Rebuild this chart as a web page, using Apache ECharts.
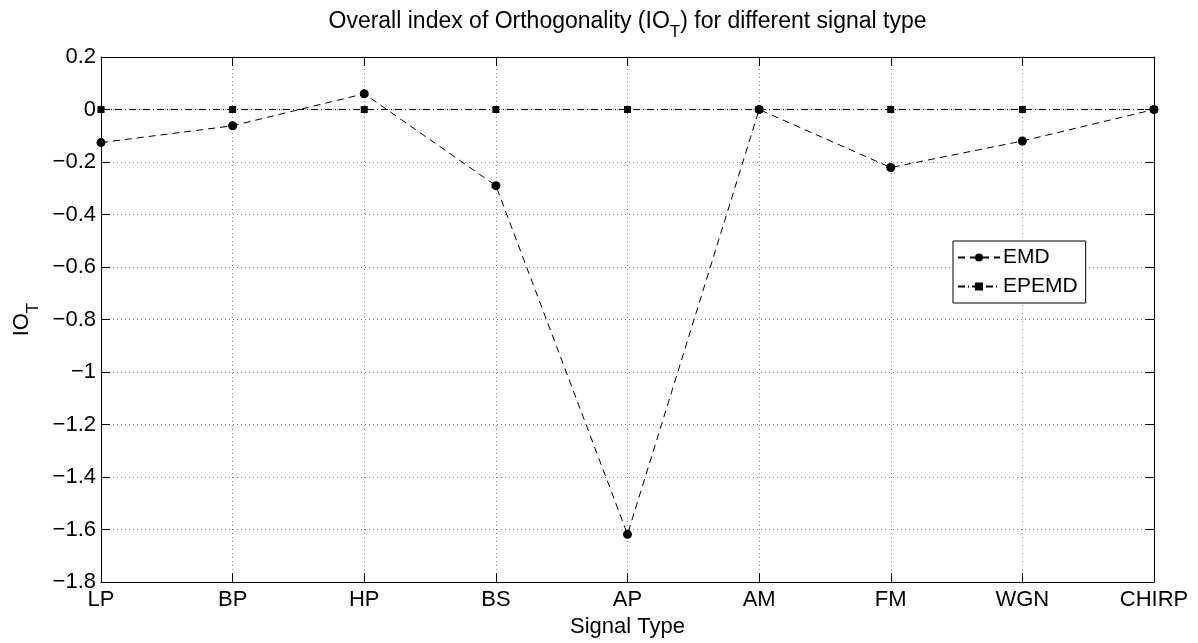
<!DOCTYPE html>
<html>
<head>
<meta charset="utf-8">
<script src="https://cdn.jsdelivr.net/npm/echarts@6/dist/echarts.min.js"></script>
<style>
html,body{margin:0;padding:0;background:#fff;}
#chart{width:1198px;height:643px;}
</style>
</head>
<body>
<div id="chart"></div>
<script>
// ---- data ----
const categories = ['LP', 'BP', 'HP', 'BS', 'AP', 'AM', 'FM', 'WGN', 'CHIRP'];
const emdValues = [-0.126, -0.062, 0.06, -0.29, -1.618, 0.0, -0.221, -0.12, 0.0];
const epemdValues = [0, 0, 0, 0, 0, 0, 0, 0, 0];
const yTicks = { min: -1.8, max: 0.2, interval: 0.2 };
const seriesNames = ['EMD', 'EPEMD'];
const titleText = 'Overall index of Orthogonality (IO{sub|T}) for different signal type';
const yName = 'IO{sub|T}';
const xName = 'Signal Type';

const FONT = '"Liberation Sans", Arial, Helvetica, sans-serif';
const fs = 22;
function richFor(size) {
  return {
    n: { fontSize: size, lineHeight: size + 2, verticalAlign: 'top', fontFamily: FONT, color: '#000' },
    sub: { fontSize: 17, lineHeight: 17, padding: [14, 0, 0, 0], verticalAlign: 'top', fontFamily: FONT, color: '#000' }
  };
}
function richify(s) {
  return s.split(/(\{sub\|[^}]*\})/).map(p => p.startsWith('{sub|') ? p : (p ? '{n|' + p + '}' : '')).join('');
}
const gridLine = { show: true, lineStyle: { color: '#8a8a8a', type: [1, 3], width: 1 } };
const axisLine = { show: true, onZero: false, lineStyle: { color: '#000', width: 1 } };
const tickIn = { show: true, inside: true, length: 9, lineStyle: { color: '#000' } };

const chart = echarts.init(document.getElementById('chart'), null, { renderer: 'canvas' });
chart.setOption({
  animation: false,
  backgroundColor: '#fff',
  textStyle: { fontFamily: FONT },
  grid: { left: 101, right: 44, top: 57, bottom: 57 },
  legend: {
    data: seriesNames,
    orient: 'vertical',
    left: 953, top: 241,
    backgroundColor: '#fff',
    borderColor: '#000', borderWidth: 1, borderRadius: 0,
    padding: [6, 8, 6, 4],
    itemGap: 8,
    itemWidth: 42, itemHeight: 10,
    textStyle: { fontSize: 21, color: '#000', fontFamily: FONT, padding: [0, 0, 0, -2] }
  },
  xAxis: [{
    type: 'category', data: categories, boundaryGap: false, position: 'bottom',
    axisLine: axisLine, axisTick: tickIn,
    axisLabel: { color: '#000', fontSize: fs, margin: 7, fontFamily: FONT },
    splitLine: gridLine,
    name: xName, nameLocation: 'middle', nameGap: 28,
    nameTextStyle: { color: '#000', fontSize: fs, fontFamily: FONT }
  }, {
    type: 'category', data: categories, boundaryGap: false, position: 'top',
    axisLine: axisLine, axisTick: tickIn, axisLabel: { show: false }, splitLine: { show: false },
    name: richify(titleText), nameLocation: 'middle', nameGap: 22,
    nameTextStyle: { rich: richFor(23) }
  }],
  yAxis: [{
    type: 'value', min: yTicks.min, max: yTicks.max, interval: yTicks.interval, position: 'left',
    axisLine: axisLine, axisTick: tickIn,
    axisLabel: {
      color: '#000', fontSize: fs, margin: 5, fontFamily: FONT,
      formatter: v => String(+(+v).toFixed(1)).replace('-', '\u2212')
    },
    splitLine: gridLine,
    name: richify(yName), nameLocation: 'middle', nameRotate: 90, nameGap: 66,
    nameTextStyle: { rich: richFor(fs) }
  }, {
    type: 'value', min: yTicks.min, max: yTicks.max, interval: yTicks.interval, position: 'right',
    axisLine: axisLine, axisTick: tickIn, axisLabel: { show: false }, splitLine: { show: false }
  }],
  series: [{
    name: seriesNames[1], type: 'line', data: epemdValues, z: 3,
    symbol: 'rect', symbolSize: 7, showSymbol: true,
    itemStyle: { color: '#000' },
    lineStyle: { color: '#000', width: 1, type: [7, 3, 1, 3] }
  }, {
    name: seriesNames[0], type: 'line', data: emdValues, z: 4,
    symbol: 'circle', symbolSize: 9, showSymbol: true,
    itemStyle: { color: '#000' },
    lineStyle: { color: '#000', width: 1, type: [7, 5] }
  }]
});
</script>
</body>
</html>
